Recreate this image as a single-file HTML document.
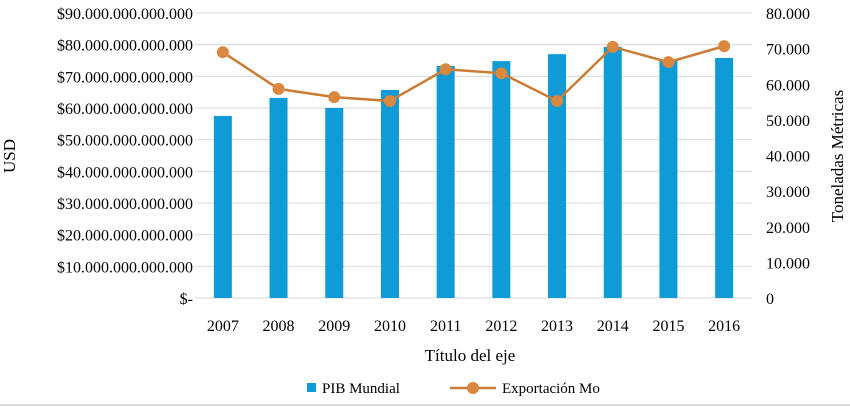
<!DOCTYPE html>
<html><head><meta charset="utf-8"><style>
body{margin:0;background:#fff;}
svg{display:block;font-family:"Liberation Serif",serif;}
</style></head><body>
<svg id="chart" width="850" height="409" xmlns="http://www.w3.org/2000/svg">
<rect x="0" y="0" width="850" height="409" fill="#fff"/>
<g id="grid"></g><g id="bars"></g><g id="line"></g><g id="labels"></g>
<text x="15" y="156" font-size="17" text-anchor="middle" transform="rotate(-90 15 156)">USD</text>
<text x="843" y="156" font-size="17" text-anchor="middle" transform="rotate(-90 843 156)">Toneladas Métricas</text>
<text x="470" y="361" font-size="17" text-anchor="middle">Título del eje</text>
<rect x="307" y="383" width="9" height="9" fill="#0f9ad8"/>
<text x="322" y="393" font-size="15">PIB Mundial</text>
<line x1="450" y1="388" x2="496" y2="388" stroke="#c97d36" stroke-width="2.5"/>
<circle cx="473" cy="388" r="6" fill="#d9893f"/>
<text x="502" y="393" font-size="15">Exportación Mo</text>
<line x1="0" y1="405" x2="850" y2="405" stroke="#bbb" stroke-width="1"/>
</svg>
<script>
const years=["2007","2008","2009","2010","2011","2012","2013","2014","2015","2016"];
const pib=[57.5,63.2,60.0,65.7,73.3,74.8,77.0,79.3,75.1,75.8];
const expo=[69000,58700,56400,55300,64200,63100,55300,70500,66200,70700];
const leftTicks=["$-","$10.000.000.000.000","$20.000.000.000.000","$30.000.000.000.000","$40.000.000.000.000","$50.000.000.000.000","$60.000.000.000.000","$70.000.000.000.000","$80.000.000.000.000","$90.000.000.000.000"];
const rightTicks=["0","10.000","20.000","30.000","40.000","50.000","60.000","70.000","80.000"];
const NS="http://www.w3.org/2000/svg";
const x0=195,x1=752,yTop=13,yBot=298;
const yL=v=>yBot-(v/90)*(yBot-yTop);
const yR=v=>yBot-(v/80000)*(yBot-yTop);
const bw=(x1-x0)/years.length;
const xc=i=>x0+bw*(i+0.5);
function mk(t,a,p){const e=document.createElementNS(NS,t);for(const k in a)e.setAttribute(k,a[k]);p.appendChild(e);return e;}
const grid=document.getElementById('grid'),bars=document.getElementById('bars'),line=document.getElementById('line'),lab=document.getElementById('labels');
leftTicks.forEach((t,i)=>{const y=yL(i*10);
 const g=mk('line',{x1:x0,x2:x1,y1:y,y2:y,stroke:'#d9d9d9','stroke-width':1},grid);
 
 
 const tx=mk('text',{x:193,y:y+6,'font-size':16,'text-anchor':'end'},lab);tx.textContent=t;
 
 });
rightTicks.forEach((t,i)=>{const y=yR(i*10000);
 const tx=mk('text',{x:766,y:y+6,'font-size':16},lab);tx.textContent=t;
 
 });
years.forEach((yr,i)=>{
 const r=mk('rect',{x:xc(i)-9,y:yL(pib[i]),width:18,height:yBot-yL(pib[i]),fill:'#0f9ad8'},bars);
 
 
 const tx=mk('text',{x:xc(i),y:331,'font-size':16,'text-anchor':'middle'},lab);tx.textContent=yr;
 
 });
const pts=expo.map((v,i)=>xc(i)+','+yR(v)).join(' ');
const pl=mk('polyline',{points:pts,fill:'none',stroke:'#c97d36','stroke-width':2.5},line);


expo.forEach((v,i)=>{const c=mk('circle',{cx:xc(i),cy:yR(v),r:6,fill:'#d9893f'},line);
 
 });
</script>
</body></html>
